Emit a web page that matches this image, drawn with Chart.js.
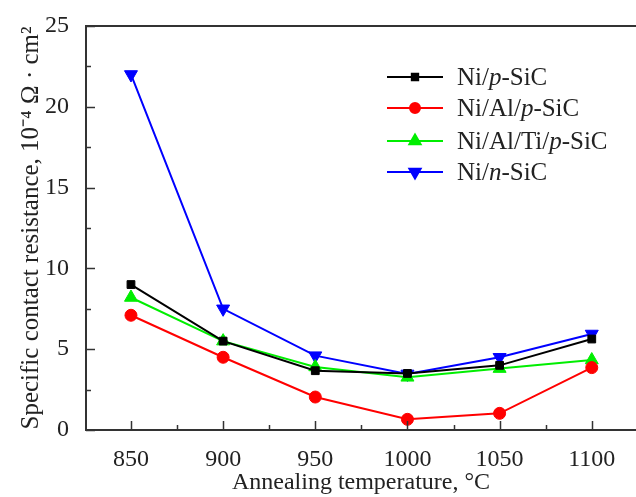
<!DOCTYPE html>
<html><head><meta charset="utf-8">
<script src="https://cdn.jsdelivr.net/npm/chart.js@4.4.0/dist/chart.umd.min.js"></script>
<style>html,body{margin:0;padding:0;background:#fff;overflow:hidden}</style>
</head><body>
<canvas id="c" width="636" height="497"></canvas>
<script>
const temperatures = [850, 900, 950, 1000, 1050, 1100];
const niP = [9.0, 5.5, 3.67, 3.5, 4.0, 5.63];
const niAlP = [7.1, 4.5, 2.04, 0.66, 1.03, 3.86];
const niAlTiP = [8.2, 5.5, 3.9, 3.26, 3.8, 4.33];
const niN = [22.0, 7.5, 4.6, 3.47, 4.5, 5.94];
const yTicks = [0, 5, 10, 15, 20, 25];
const xMinorTicks = [875, 925, 975, 1025, 1075, 1125];
const yMinorTicks = [2.5, 7.5, 12.5, 17.5, 22.5];
const legendParts = [
  [['Ni/', false], ['p', true], ['-SiC', false]],
  [['Ni/Al/', false], ['p', true], ['-SiC', false]],
  [['Ni/Al/Ti/', false], ['p', true], ['-SiC', false]],
  [['Ni/', false], ['n', true], ['-SiC', false]]
];
const FONT = '"Liberation Serif", "Times New Roman", serif';
const FS = 24;
const AX = '#333333';

function mk(label, data, color, style, radius, rot) {
  return {label, data: temperatures.map((t, i) => ({x: t, y: data[i]})),
    borderColor: color, backgroundColor: color, borderWidth: 2,
    pointStyle: style, pointRadius: radius, pointHoverRadius: radius,
    pointRotation: rot || 0, pointBorderWidth: 1, tension: 0};
}

const customPlugin = {
  id: 'custom',
  afterDraw(chart) {
    const ctx = chart.ctx, xs = chart.scales.x, ys = chart.scales.y, a = chart.chartArea;
    ctx.save();
    ctx.strokeStyle = AX; ctx.lineWidth = 2;
    ctx.beginPath(); ctx.moveTo(a.left - 1, a.top); ctx.lineTo(chart.width, a.top); ctx.stroke();
    ctx.lineWidth = 1.5;
    temperatures.forEach(v => { const p = Math.round(xs.getPixelForValue(v)) + 0.5;
      ctx.beginPath(); ctx.moveTo(p, a.bottom); ctx.lineTo(p, a.bottom - 9); ctx.stroke(); });
    xMinorTicks.forEach(v => { const p = Math.round(xs.getPixelForValue(v)) + 0.5;
      if (p > a.right) return;
      ctx.beginPath(); ctx.moveTo(p, a.bottom); ctx.lineTo(p, a.bottom - 5); ctx.stroke(); });
    yTicks.forEach(v => { const p = Math.round(ys.getPixelForValue(v)) + 0.5;
      ctx.beginPath(); ctx.moveTo(a.left, p); ctx.lineTo(a.left + 9, p); ctx.stroke(); });
    yMinorTicks.forEach(v => { const p = Math.round(ys.getPixelForValue(v)) + 0.5;
      ctx.beginPath(); ctx.moveTo(a.left, p); ctx.lineTo(a.left + 5, p); ctx.stroke(); });
    const rowY = [77, 108, 141, 172];
    chart.data.datasets.forEach((ds, i) => {
      const y = rowY[i];
      ctx.strokeStyle = ds.borderColor; ctx.lineWidth = 2;
      ctx.beginPath(); ctx.moveTo(387, y); ctx.lineTo(443, y); ctx.stroke();
      ctx.fillStyle = ds.backgroundColor;
      Chart.helpers.drawPoint(ctx, {pointStyle: ds.pointStyle, radius: ds.pointRadius - 1,
        rotation: ds.pointRotation, borderWidth: 1}, 415, y);
      let x = 457;
      ctx.fillStyle = '#222'; ctx.textBaseline = 'middle'; ctx.textAlign = 'left';
      legendParts[i].forEach(([txt, it]) => {
        ctx.font = (it ? 'italic ' : '') + '25px ' + FONT;
        ctx.fillText(txt, x, y + 1);
        x += ctx.measureText(txt).width;
      });
    });
    ctx.restore();
  }
};

new Chart(document.getElementById('c'), {
  type: 'line',
  data: {datasets: [
    mk('Ni/p-SiC', niP, '#000000', 'rect', 5.5),
    mk('Ni/Al/p-SiC', niAlP, '#ff0000', 'circle', 6),
    mk('Ni/Al/Ti/p-SiC', niAlTiP, '#00ee00', 'triangle', 7.5),
    mk('Ni/n-SiC', niN, '#0000ff', 'triangle', 7.5, 180)
  ]},
  options: {
    responsive: false, animation: false,
    layout: {autoPadding: false, padding: {top: 26, right: 0, left: 0, bottom: 0}},
    plugins: {legend: {display: false}, tooltip: {enabled: false}},
    scales: {
      x: {type: 'linear', min: 825.6, max: 1124,
        afterBuildTicks: s => { s.ticks = temperatures.map(v => ({value: v})); },
        afterFit: s => { s.height = 67; s.paddingLeft = 0; s.paddingRight = 0; },
        grid: {display: false}, border: {display: true, color: AX, width: 2},
        ticks: {color: '#222', font: {family: FONT, size: FS}, padding: 7, maxRotation: 0,
          callback: v => String(v)},
        title: {display: true, text: 'Annealing temperature, °C', color: '#222',
          font: {family: FONT, size: FS}, padding: {top: 0, bottom: 0}}
      },
      y: {min: 0, max: 25,
        afterBuildTicks: s => { s.ticks = yTicks.map(v => ({value: v})); },
        afterFit: s => { s.width = 86; s.paddingTop = 0; s.paddingBottom = 0; },
        grid: {display: false}, border: {display: true, color: AX, width: 2},
        ticks: {color: '#222', font: {family: FONT, size: FS}, padding: 9},
        title: {display: true, text: 'Specific contact resistance, 10⁻⁴ Ω · cm²', color: '#222',
          font: {family: FONT, size: 25}, padding: {top: 16, bottom: 0}}
      }
    }
  },
  plugins: [customPlugin]
});
</script>
</body></html>
